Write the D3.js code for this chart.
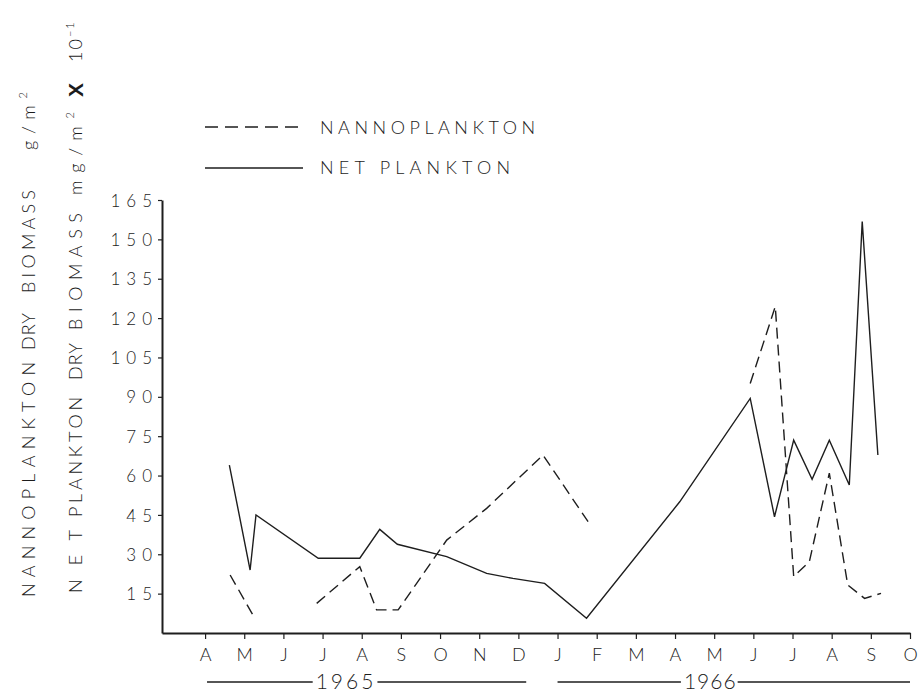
<!DOCTYPE html>
<html>
<head>
<meta charset="utf-8">
<script src="https://cdn.jsdelivr.net/npm/d3@7"></script>
<style>
  html, body { margin: 0; padding: 0; background: #fff; }
  svg { display: block; }
  text { font-family: Lato, "Liberation Sans", Arial, sans-serif; font-weight: 300; fill: #1c1c1c; }
</style>
</head>
<body>
<svg id="chart" width="918" height="693"></svg>
<script>
// Month ticks run from April 1965 (index 0) to October 1966 (index 18)
const monthLabels = ["A","M","J","J","A","S","O","N","D","J","F","M","A","M","J","J","A","S","O"];
const yTicks = [15, 30, 45, 60, 75, 90, 105, 120, 135, 150, 165];

// Net plankton, mg/m² × 10⁻¹ (sampling time as fractional month index)
const netMonth = [0.62, 1.15, 1.30, 2.89, 3.95, 4.46, 4.91, 6.17, 7.19, 7.86, 8.67, 9.74, 12.12, 13.92, 14.54, 15.03, 15.50, 15.94, 16.45, 16.78, 17.18];
const netValue = [64, 24, 45, 28.5, 28.5, 39.5, 33.8, 29.1, 22.7, 20.8, 18.9, 5.6, 50, 89.4, 44.3, 73.5, 58.6, 73.5, 56.4, 156.8, 67.8];

// Nannoplankton, g/m² (null marks a break in the record)
const nannoMonth = [0.64, 1.22, 2.0, 2.85, 3.95, 4.38, 4.93, 6.17, 7.19, 8.63, 9.78, 11.0, 13.92, 14.56, 15.03, 15.43, 15.94, 16.41, 16.84, 17.26];
const nannoValue = [22.1, 6.9, null, 11.3, 25.3, 8.8, 8.8, 35.4, 47.5, 67.8, 42.4, null, 95.1, 124.4, 21.5, 27.2, 60.9, 18.3, 13.2, 15.1];

const yearLabels = ["1965", "1966"];
const legendLabels = ["NANNOPLANKTON", "NET PLANKTON"];

const svg = d3.select("#chart");
const ink = "#1e1e1e";

const x = d3.scaleLinear().domain([-1.1, 18]).range([162, 910]);
const y = d3.scaleLinear().domain([0, 165]).range([633, 200]);

// ---- axes ----
const yAxis = d3.axisLeft(y).tickValues(yTicks).tickSize(4).tickSizeOuter(0).tickPadding(0);
const gy = svg.append("g").attr("transform", `translate(${x(-1.1)},0)`).call(yAxis);
gy.select(".domain").attr("stroke", ink).attr("stroke-width", 2);
gy.selectAll(".tick line").attr("stroke", ink).attr("stroke-width", 1.2);
gy.selectAll(".tick text")
  .attr("x", -4).attr("dy", "0.36em")
  .style("font-size", "17px").style("letter-spacing", "6px")
  .attr("text-anchor", "end");

const xAxis = d3.axisBottom(x).tickValues(d3.range(0, 19)).tickSize(6).tickSizeOuter(0)
  .tickFormat(i => monthLabels[i]);
const gx = svg.append("g").attr("transform", `translate(0,${y(0)})`).call(xAxis);
gx.select(".domain").attr("stroke", ink).attr("stroke-width", 2);
gx.selectAll(".tick line").attr("stroke", ink).attr("stroke-width", 1.2);
gx.selectAll(".tick text")
  .attr("y", 28).attr("dy", 0)
  .style("font-size", "18px");
svg.selectAll(".tick text").attr("font-family", null).attr("font-size", null).attr("fill", null);

// ---- year bands under the month labels ----
const years = [
  { label: yearLabels[0], from: 0.05, to: 8.2, at: 3.6, spacing: 3 },
  { label: yearLabels[1], from: 9.0, to: 18.0, at: 12.9, spacing: 1 }
];
const yearY = 682;
years.forEach(yr => {
  const t = svg.append("text")
    .attr("x", x(yr.at)).attr("y", yearY + 7)
    .attr("text-anchor", "middle")
    .style("font-size", "21px").style("letter-spacing", yr.spacing + "px")
    .text(yr.label);
  const bb = t.node().getBBox();
  svg.append("line").attr("x1", x(yr.from)).attr("x2", bb.x - 3)
    .attr("y1", yearY).attr("y2", yearY).attr("stroke", ink).attr("stroke-width", 1.3);
  svg.append("line").attr("x1", bb.x + bb.width + 1).attr("x2", x(yr.to))
    .attr("y1", yearY).attr("y2", yearY).attr("stroke", ink).attr("stroke-width", 1.3);
});

// ---- rotated axis titles, word by word ----
function vWord(bx, yBottom, yTop, str, opts = {}) {
  const t = svg.append("text")
    .attr("transform", `translate(${bx},${yBottom}) rotate(-90)`)
    .style("font-size", (opts.size || 18) + "px");
  if (opts.bold) t.style("font-weight", 700).style("font-family", "'Liberation Sans', Arial, sans-serif");
  if (opts.sup) {
    t.append("tspan").text(str);
    t.append("tspan").attr("dy", -8).style("font-size", "11px").text(opts.sup);
  } else {
    t.text(str);
  }
  if (yTop != null) t.attr("textLength", yBottom - yTop).attr("lengthAdjust", "spacing");
  return t;
}
// line 1
vWord(35, 597, 362, "NANNOPLANKTON");
vWord(35, 350, 313, "DRY");
vWord(35, 293, 190, "BIOMASS");
vWord(35, 150, 92, "g/m", { sup: "2" });
// line 2
vWord(82, 593, 530, "NET");
vWord(82, 517, 397, "PLANKTON");
vWord(82, 380, 343, "DRY");
vWord(82, 330, 213, "BIOMASS");
vWord(82, 195, 112, "mg/m", { sup: "2" });
vWord(83, 97, 78, "X", { bold: true, size: 21 });
vWord(82, 62, null, "10", { sup: "\u22121" }).style("letter-spacing", "2px");

// ---- series ----
const nanno = nannoMonth.map((m, i) => ({ m, v: nannoValue[i] }));
const net = netMonth.map((m, i) => ({ m, v: netValue[i] }));

const line = d3.line().defined(d => d.v != null).x(d => x(d.m)).y(d => y(d.v));

svg.append("path").datum(net)
  .attr("d", line).attr("fill", "none")
  .attr("stroke", ink).attr("stroke-width", 1.4).attr("stroke-linejoin", "miter");

svg.append("path").datum(nanno)
  .attr("d", line).attr("fill", "none")
  .attr("stroke", ink).attr("stroke-width", 1.4)
  .attr("stroke-dasharray", "11,6");

// ---- legend ----
const legend = [
  { label: legendLabels[0], dash: "13,7", ly: 127, ty: 134, len: 215 },
  { label: legendLabels[1], dash: null, ly: 168, ty: 174, len: 190 }
];
legend.forEach(d => {
  svg.append("line").attr("x1", 205).attr("x2", 303).attr("y1", d.ly).attr("y2", d.ly)
    .attr("stroke", ink).attr("stroke-width", 1.4)
    .attr("stroke-dasharray", d.dash);
  svg.append("text").attr("x", 320).attr("y", d.ty)
    .style("font-size", "18px")
    .attr("textLength", d.len).attr("lengthAdjust", "spacing")
    .text(d.label);
});
</script>
</body>
</html>
